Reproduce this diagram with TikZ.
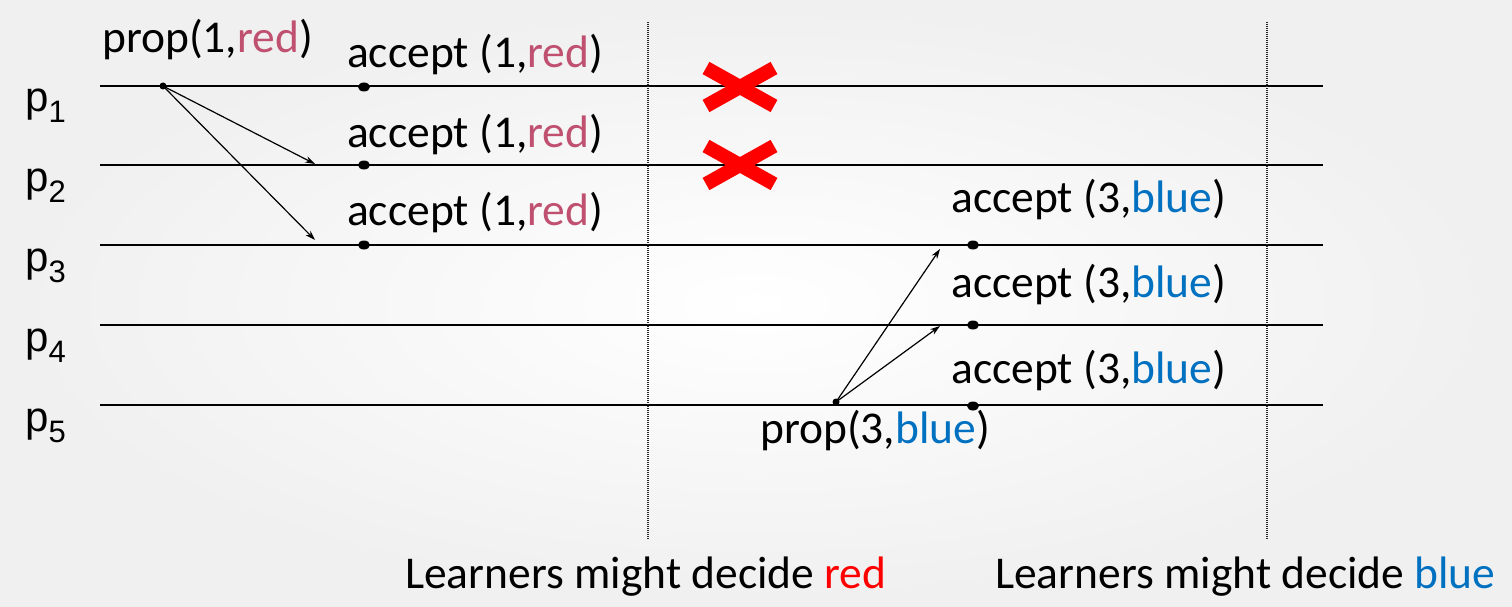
\documentclass[tikz,border=0pt]{standalone}
\usepackage{fontspec}
\setmainfont{Carlito}
\newfontfamily\arialfont{Liberation Sans}
\usetikzlibrary{arrows.meta,shapes.geometric}
\definecolor{mred}{RGB}{192,80,112}
\definecolor{mblue}{RGB}{0,112,192}
\definecolor{xred}{RGB}{255,0,0}
\begin{document}
\begin{tikzpicture}[x=1pt,y=-1pt,
  proc/.style={line width=2pt,black},
  sep/.style={line width=2.5pt,dash pattern=on 1pt off 1pt,black!85},
  msg/.style={line width=1.2pt,-{Stealth[length=10pt,width=6.5pt]}},
  lbl/.style={anchor=base west,inner sep=0pt,font=\fontsize{45.5}{50}\selectfont},
  plbl/.style={anchor=base west,inner sep=0pt,font=\arialfont\fontsize{42}{46}\selectfont},
  dotbig/.style={ellipse,fill=black,minimum width=12pt,minimum height=9pt,inner sep=0pt},
  dotsm/.style={circle,fill=black,minimum size=7pt,inner sep=0pt},
  cross/.style={line width=14pt,xred}]
\useasboundingbox (0,0) rectangle (1512,607);
\shade[inner color=white,outer color=black!6] (0,0) rectangle (1512,607);
% process lines
\foreach \i/\y in {1/86,2/165,3/245,4/325,5/405}{
  \coordinate (L\i) at (100,\y);
  \coordinate (R\i) at (1323,\y);
  \draw[proc] (L\i) -- (R\i);
  \node[plbl] (p\i) at (25,\y+26) {p\raisebox{-11pt}{\fontsize{31}{34}\selectfont\i}};
}
% separators
\coordinate (s1t) at (648,22); \coordinate (s1b) at (648,540);
\coordinate (s2t) at (1267,22); \coordinate (s2b) at (1267,540);
\draw[sep] (s1t) -- (s1b);
\draw[sep] (s2t) -- (s2b);
% red phase
\node[dotsm] (pr1) at (163,86) {};
\node[dotbig] (a1) at (364,87) {};
\node[dotbig] (a2) at (364,165) {};
\node[dotbig] (a3) at (364,245) {};
\coordinate (t2) at (315,164);
\coordinate (t3) at (315,240);
\draw[msg] (pr1.center) -- (t2);
\draw[msg] (pr1.center) -- (t3);
\node[lbl] (prl1) at (102,53) {prop(1,\textcolor{mred}{red})};
\node[lbl] (al1) at (347,68) {accept (1,\textcolor{mred}{red})};
\node[lbl] (al2) at (347,147) {accept (1,\textcolor{mred}{red})};
\node[lbl] (al3) at (347,225) {accept (1,\textcolor{mred}{red})};
% crosses
\coordinate (x1a) at (706,68); \coordinate (x1b) at (774,106);
\coordinate (x1c) at (706,106); \coordinate (x1d) at (774,68);
\draw[cross] (x1a) -- (x1b); \draw[cross] (x1c) -- (x1d);
\coordinate (x2a) at (706,146); \coordinate (x2b) at (774,184);
\coordinate (x2c) at (706,184); \coordinate (x2d) at (774,146);
\draw[cross] (x2a) -- (x2b); \draw[cross] (x2c) -- (x2d);
% blue phase
\node[dotsm] (pr3) at (836,402) {};
\node[dotbig] (b3) at (973,245) {};
\node[dotbig] (b4) at (973,325) {};
\node[dotbig] (b5) at (973,406) {};
\coordinate (u3) at (940,249);
\coordinate (u4) at (940,326);
\draw[msg] (pr3.center) -- (u3);
\draw[msg] (pr3.center) -- (u4);
\node[lbl] (bl3) at (951,212) {accept (3,\textcolor{mblue}{blue})};
\node[lbl] (bl4) at (951,297) {accept (3,\textcolor{mblue}{blue})};
\node[lbl] (bl5) at (951,383) {accept (3,\textcolor{mblue}{blue})};
\node[lbl] (prl3) at (760,443) {prop(3,\textcolor{mblue}{blue})};
% bottom labels
\node[lbl] (dr) at (405,588) {Learners might decide \textcolor{xred}{red}};
\node[lbl] (db) at (995,588) {Learners might decide \textcolor{mblue}{blue}};
\end{tikzpicture}
\end{document}
